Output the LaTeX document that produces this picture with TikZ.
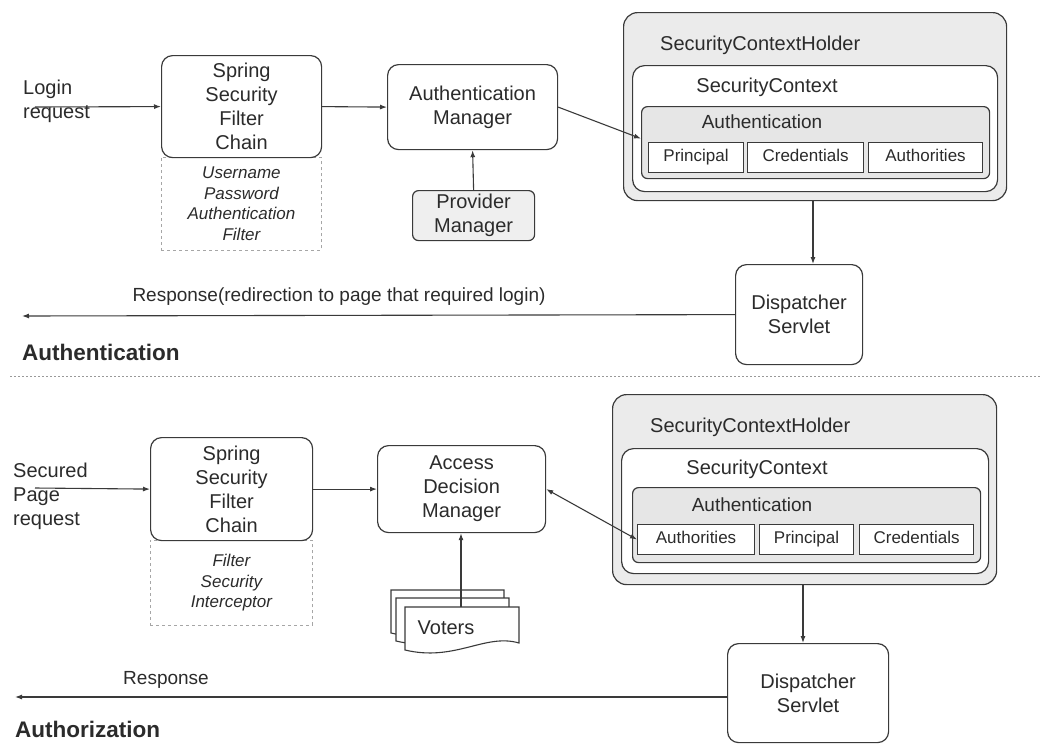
\documentclass[tikz,border=0pt]{standalone}
\usepackage{fontspec}
\setmainfont{Liberation Sans}
\usetikzlibrary{arrows.meta}
\definecolor{ink}{HTML}{2B2B2B}
\definecolor{line}{HTML}{3A3A3A}
\definecolor{holder}{HTML}{EBEBEB}
\definecolor{authfill}{HTML}{E6E6E6}
\definecolor{provfill}{HTML}{EFEFEF}
\begin{document}
\begin{tikzpicture}[x=1pt,y=-1pt,
  every node/.style={text=ink},
  big/.style={font=\fontsize{20}{24}\selectfont},
  small/.style={font=\fontsize{17}{20}\selectfont},
  box/.style={draw=line, line width=1.2pt, fill=white, anchor=north west,
    inner sep=0pt, align=center},
  rbox/.style={box, rounded corners=11pt, big},
  dbox/.style={draw=gray!70, dashed, line width=0.9pt, anchor=north west,
    inner sep=0pt, align=center, font=\fontsize{17}{20.5}\selectfont\itshape},
  cell/.style={box, line width=1.1pt, small, text height=12pt, text depth=4pt},
  conn/.style={draw=line, line width=1.1pt, -{Latex[length=7pt,width=5pt]}},
  dconn/.style={draw=line, line width=1.1pt, {Latex[length=7pt,width=5pt]}-{Latex[length=7pt,width=5pt]}},
  doc/.style={draw=line, line width=1.1pt, fill=white},
  title/.style={font=\fontsize{22.5}{26}\selectfont\bfseries, anchor=west, inner sep=0pt},
]
\useasboundingbox (0,0) rectangle (1040,744);

% ---------------- authentication flow ----------------
\node[anchor=west, align=left, inner sep=0pt, big] (login) at (23,101) {Login\\request};
\coordinate (loginstart) at (35,107);

\node[dbox, minimum width=160pt, minimum height=93pt] (upaf) at (161,157)
  {Username\\Password\\Authentication\\Filter};
\node[rbox, minimum width=160pt, minimum height=102pt] (ssfc1) at (161,55)
  {Spring\\Security\\Filter\\Chain};

\node[rbox, minimum width=170pt, minimum height=85pt] (am) at (387,64)
  {Authentication\\Manager};
\node[box, rounded corners=6pt, fill=provfill, big, minimum width=122pt, minimum height=50pt] (pm) at (412,190)
  {Provider\\Manager};

% security context holder (top)
\node[box, rounded corners=14pt, fill=holder, minimum width=383pt, minimum height=188pt] (sch1) at (623,12) {};
\node[box, rounded corners=12pt, minimum width=365pt, minimum height=126pt] (sc1) at (632,65) {};
\node[box, rounded corners=6pt, fill=authfill, minimum width=348pt, minimum height=72pt] (au1) at (641,106) {};
\node[cell, minimum width=95pt, minimum height=30pt] (pr1) at (648,142) {Principal};
\node[cell, minimum width=116pt, minimum height=30pt] (cr1) at (747,142) {Credentials};
\node[cell, minimum width=114pt, minimum height=30pt] (ar1) at (868,142) {Authorities};
\node[anchor=west, inner sep=0pt, big] (sch1t) at (660,45) {SecurityContextHolder};
\node[inner sep=0pt, big] (sc1t) at (767,87) {SecurityContext};
\node[inner sep=0pt, font=\fontsize{19}{22}\selectfont] (au1t) at (762,122) {Authentication};

\node[rbox, minimum width=127pt, minimum height=100pt] (ds1) at (735,264)
  {Dispatcher\\Servlet};

\coordinate (resp1end) at (22,316);
\node[inner sep=0pt, font=\fontsize{19}{22}\selectfont] (resp1t) at (339,297) {Response(redirection to page that required login)};
\node[title] (authn) at (22,352) {Authentication};

\draw[conn] (loginstart) -- (ssfc1.west);
\draw[conn] (ssfc1.east) -- (am.west);
\draw[conn] (pm.north) -- (am.south);
\draw[conn] (am.east) -- ([yshift=4pt]au1.west);
\draw[conn] (sch1.south -| 813,0) -- (ds1.north -| 813,0);
\draw[conn] (ds1.west) -- (resp1end);

% separator between the two flows
\draw[gray!80, line width=1pt, dash pattern=on 2pt off 2pt] (10,376) -- (1040,376);

% ---------------- authorization flow ----------------
\node[anchor=west, align=left, inner sep=0pt, big] (secured) at (13,496) {Secured\\Page\\request};
\coordinate (securedstart) at (35,488);

\node[dbox, minimum width=162pt, minimum height=85pt] (fsi) at (150,540)
  {Filter\\Security\\Interceptor};
\node[rbox, minimum width=162pt, minimum height=103pt] (ssfc2) at (150,437)
  {Spring\\Security\\Filter\\Chain};

\node[rbox, minimum width=168pt, minimum height=87pt] (adm) at (377,445)
  {Access\\Decision\\Manager};

% stacked voter documents
\draw[doc] (391,590) -- (504,590) -- (504,626) .. controls (471,616) and (441,645) .. (391,633) -- cycle;
\draw[doc] (396,598) -- (509,598) -- (509,634) .. controls (476,624) and (446,653) .. (396,641) -- cycle;
\draw[doc] (405,607) -- (519,607) -- (519,643) .. controls (485,633) and (455,662) .. (405,650) -- cycle;
\node[inner sep=0pt, big] (voters) at (446,628) {Voters};
\coordinate (vtop) at (461,607);

% security context holder (bottom)
\node[box, rounded corners=14pt, fill=holder, minimum width=384pt, minimum height=190pt] (sch2) at (612,394) {};
\node[box, rounded corners=12pt, minimum width=367pt, minimum height=125pt] (sc2) at (621,448) {};
\node[box, rounded corners=6pt, fill=authfill, minimum width=348pt, minimum height=75pt] (au2) at (632,487) {};
\node[cell, minimum width=117pt, minimum height=30pt] (ar2) at (637,524) {Authorities};
\node[cell, minimum width=94pt, minimum height=30pt] (pr2) at (759,524) {Principal};
\node[cell, minimum width=114pt, minimum height=30pt] (cr2) at (859,524) {Credentials};
\node[anchor=west, inner sep=0pt, big] (sch2t) at (650,427) {SecurityContextHolder};
\node[inner sep=0pt, big] (sc2t) at (757,469) {SecurityContext};
\node[inner sep=0pt, font=\fontsize{19}{22}\selectfont] (au2t) at (752,505) {Authentication};

\node[rbox, minimum width=161pt, minimum height=99pt] (ds2) at (727,643)
  {Dispatcher\\Servlet};

\coordinate (resp2end) at (15,697);
\node[inner sep=0pt, font=\fontsize{19}{22}\selectfont] (resp2t) at (166,680) {Response};
\node[title] (authz) at (15,729) {Authorization};

\draw[conn] (securedstart) -- (ssfc2.west);
\draw[conn] (ssfc2.east) -- (adm.west);
\draw[conn] (vtop) -- (vtop |- adm.south);
\draw[dconn] (adm.east) -- (ar2.west);
\draw[conn] (sch2.south -| 803,0) -- (ds2.north -| 803,0);
\draw[conn] (ds2.west |- resp2end) -- (resp2end);
\end{tikzpicture}
\end{document}
